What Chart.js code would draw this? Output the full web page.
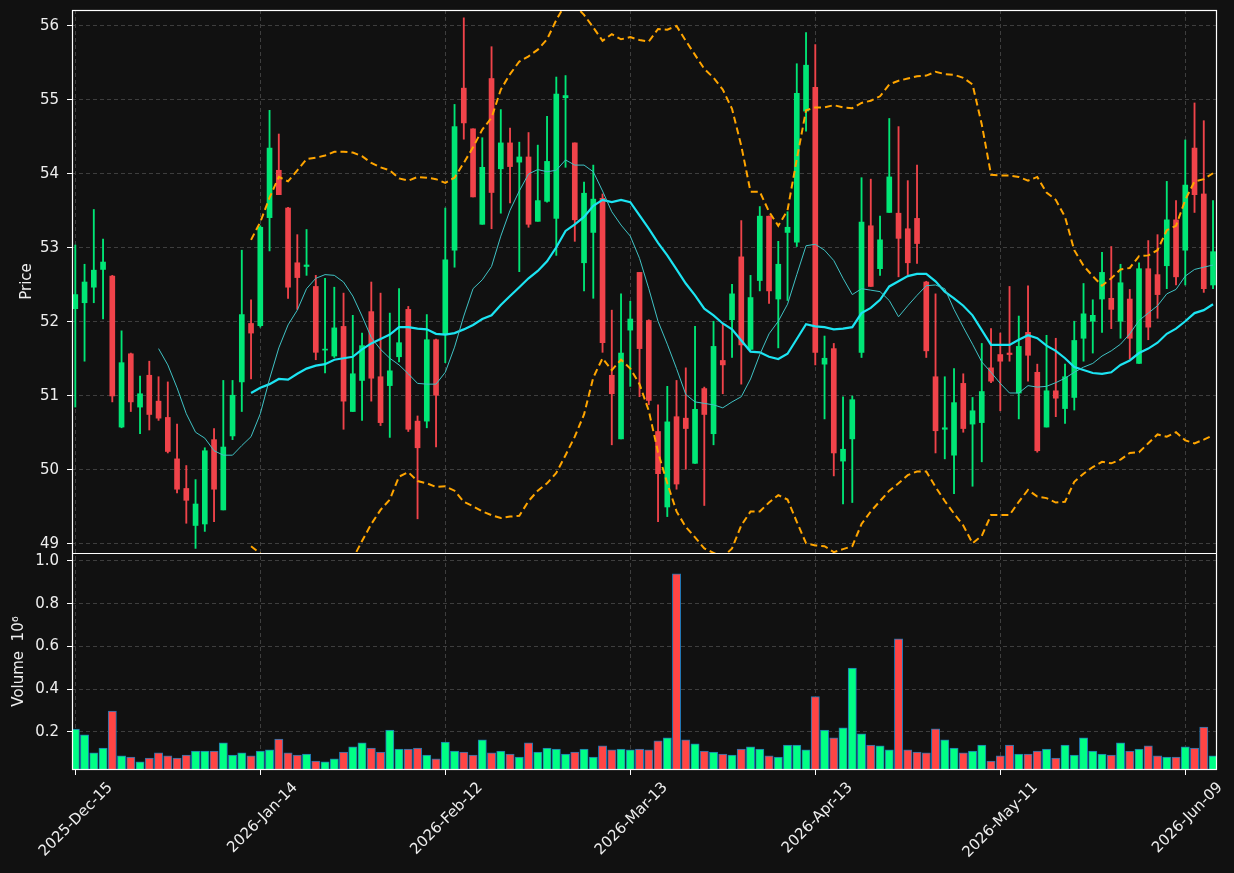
<!DOCTYPE html>
<html>
<head>
<meta charset="utf-8">
<script src="https://cdn.jsdelivr.net/npm/chart.js@4.4.1/dist/chart.umd.min.js"></script>
<style>
  html, body { margin: 0; padding: 0; background: #111111; }
  #wrap { position: absolute; left: 0; top: 0; width: 1234px; height: 873px; }
</style>
</head>
<body>
<div id="wrap"><canvas id="graficoCandles" width="1234" height="873"></canvas></div>
<script>
// pregões (dias úteis da bolsa)
const dates = [
  '2025-Dec-15','2025-Dec-16','2025-Dec-17','2025-Dec-18','2025-Dec-19','2025-Dec-22','2025-Dec-23','2025-Dec-24','2025-Dec-26','2025-Dec-29','2025-Dec-30','2025-Dec-31',
  '2026-Jan-02','2026-Jan-05','2026-Jan-06','2026-Jan-07','2026-Jan-08','2026-Jan-09','2026-Jan-12','2026-Jan-13','2026-Jan-14','2026-Jan-15','2026-Jan-16','2026-Jan-20','2026-Jan-21','2026-Jan-22','2026-Jan-23','2026-Jan-26','2026-Jan-27','2026-Jan-28','2026-Jan-29','2026-Jan-30',
  '2026-Feb-02','2026-Feb-03','2026-Feb-04','2026-Feb-05','2026-Feb-06','2026-Feb-09','2026-Feb-10','2026-Feb-11','2026-Feb-12','2026-Feb-13','2026-Feb-17','2026-Feb-18','2026-Feb-19','2026-Feb-20','2026-Feb-23','2026-Feb-24','2026-Feb-25','2026-Feb-26','2026-Feb-27',
  '2026-Mar-02','2026-Mar-03','2026-Mar-04','2026-Mar-05','2026-Mar-06','2026-Mar-09','2026-Mar-10','2026-Mar-11','2026-Mar-12','2026-Mar-13','2026-Mar-16','2026-Mar-17','2026-Mar-18','2026-Mar-19','2026-Mar-20','2026-Mar-23','2026-Mar-24','2026-Mar-25','2026-Mar-26','2026-Mar-27','2026-Mar-30','2026-Mar-31',
  '2026-Apr-01','2026-Apr-02','2026-Apr-06','2026-Apr-07','2026-Apr-08','2026-Apr-09','2026-Apr-10','2026-Apr-13','2026-Apr-14','2026-Apr-15','2026-Apr-16','2026-Apr-17','2026-Apr-20','2026-Apr-21','2026-Apr-22','2026-Apr-23','2026-Apr-24','2026-Apr-27','2026-Apr-28','2026-Apr-29','2026-Apr-30',
  '2026-May-01','2026-May-04','2026-May-05','2026-May-06','2026-May-07','2026-May-08','2026-May-11','2026-May-12','2026-May-13','2026-May-14','2026-May-15','2026-May-18','2026-May-19','2026-May-20','2026-May-21','2026-May-22','2026-May-26','2026-May-27','2026-May-28','2026-May-29',
  '2026-Jun-01','2026-Jun-02','2026-Jun-03','2026-Jun-04','2026-Jun-05','2026-Jun-08','2026-Jun-09','2026-Jun-10','2026-Jun-11','2026-Jun-12'
];

const opens = [
  52.18, 52.26, 52.47, 52.71, 52.62, 50.58, 51.57, 50.85, 51.28, 50.93,
  50.71, 50.15, 49.75, 49.25, 49.27, 50.41, 49.46, 50.46, 51.19, 51.98,
  51.95, 53.41, 54.05, 53.54, 52.80, 52.75, 52.48, 51.62, 51.54, 51.94,
  50.79, 51.21, 52.14, 51.26, 51.14, 51.53, 52.17, 50.66, 50.66, 51.76,
  51.83, 52.97, 55.16, 54.61, 53.32, 55.29, 54.07, 54.42, 54.16, 54.23,
  53.36, 53.63, 53.40, 55.03, 54.42, 52.80, 53.21, 53.67, 51.28, 50.42,
  51.89, 52.67, 52.02, 50.52, 49.50, 50.72, 50.70, 50.09, 51.10, 50.49,
  51.48, 52.03, 52.88, 51.63, 52.56, 53.43, 52.31, 53.21, 53.08, 54.85,
  55.17, 51.43, 51.64, 50.12, 50.42, 51.59, 53.30, 52.72, 53.48, 53.47,
  53.26, 53.40, 52.54, 51.26, 50.55, 50.20, 51.17, 50.62, 50.64, 51.38,
  51.56, 51.58, 51.04, 51.86, 51.32, 50.58, 51.07, 50.83, 50.98, 51.78,
  52.01, 52.31, 52.32, 52.01, 52.31, 51.44, 52.72, 52.64, 52.76, 53.38,
  52.97, 54.35, 53.73, 52.50
];
const highs = [
  53.04, 52.78, 53.52, 53.12, 52.63, 51.88, 51.58, 51.27, 51.47, 51.26,
  51.19, 50.62, 50.06, 49.87, 50.30, 50.56, 51.21, 51.21, 52.97, 52.30,
  53.30, 54.86, 54.54, 53.55, 53.18, 53.25, 52.63, 52.59, 52.47, 52.39,
  52.09, 51.85, 52.54, 52.39, 52.12, 52.45, 52.21, 50.73, 52.10, 51.77,
  53.54, 54.94, 56.11, 54.61, 54.49, 55.72, 54.87, 54.62, 54.43, 54.56,
  54.39, 54.78, 55.31, 55.33, 54.42, 53.89, 54.12, 53.73, 52.16, 52.38,
  52.28, 52.67, 52.03, 50.88, 51.13, 51.21, 51.38, 51.94, 51.12, 52.01,
  51.98, 52.51, 53.37, 52.63, 53.56, 53.43, 53.09, 53.49, 55.49, 55.91,
  55.75, 51.81, 51.71, 50.99, 51.00, 53.95, 53.93, 53.43, 54.75, 54.64,
  53.91, 54.12, 52.55, 52.38, 51.26, 51.37, 51.30, 50.98, 51.71, 51.91,
  51.85, 52.48, 52.08, 52.49, 51.43, 51.82, 51.78, 51.43, 52.01, 52.52,
  52.30, 52.94, 53.02, 52.78, 52.44, 52.80, 53.10, 53.18, 53.90, 53.64,
  54.46, 54.96, 54.72, 53.64
];
const lows = [
  50.85, 51.47, 52.26, 52.04, 50.92, 50.57, 50.79, 50.49, 50.54, 50.67,
  50.23, 49.69, 49.28, 48.94, 49.17, 49.30, 49.46, 50.41, 50.79, 51.23,
  51.93, 52.96, 53.72, 52.32, 52.17, 52.63, 51.49, 51.31, 51.52, 50.55,
  50.79, 50.67, 50.93, 50.60, 50.44, 51.46, 50.52, 49.34, 50.57, 50.31,
  51.45, 52.74, 54.47, 53.69, 53.32, 53.26, 53.47, 53.61, 52.68, 53.28,
  53.36, 53.62, 52.90, 54.09, 53.09, 52.42, 52.32, 51.59, 50.34, 50.42,
  51.13, 50.99, 50.88, 49.30, 49.37, 49.74, 50.01, 50.09, 49.52, 50.34,
  51.03, 51.52, 51.16, 51.63, 52.42, 52.25, 51.65, 52.29, 53.02, 54.58,
  51.42, 50.69, 49.92, 49.54, 49.56, 51.52, 52.48, 52.63, 53.48, 52.61,
  52.64, 52.79, 51.52, 50.23, 50.15, 49.68, 50.51, 49.78, 50.11, 51.18,
  50.80, 51.47, 50.69, 51.20, 50.24, 50.58, 50.72, 50.63, 50.81, 51.47,
  51.58, 51.86, 51.91, 51.78, 51.50, 51.44, 51.76, 52.05, 52.45, 52.50,
  52.50, 53.48, 52.40, 52.45
];
const closes = [
  52.37, 52.54, 52.70, 52.81, 51.00, 51.45, 50.92, 51.03, 50.75, 50.70,
  50.25, 49.74, 49.59, 49.54, 50.26, 49.74, 50.31, 51.01, 52.10, 51.85,
  53.28, 54.35, 53.72, 52.47, 52.60, 52.77, 51.59, 51.63, 51.92, 50.93,
  51.30, 51.68, 51.24, 50.64, 51.34, 51.72, 50.55, 50.30, 51.76, 51.01,
  52.84, 54.64, 54.69, 53.69, 54.09, 53.75, 54.42, 54.10, 54.23, 53.32,
  53.64, 54.17, 55.08, 55.06, 53.38, 53.74, 53.66, 51.72, 51.03, 51.58,
  52.04, 51.64, 50.94, 49.95, 50.65, 49.81, 50.56, 50.82, 50.75, 51.67,
  51.42, 52.38, 51.69, 52.33, 53.43, 52.42, 52.78, 53.28, 55.09, 55.47,
  51.59, 51.51, 50.23, 50.28, 50.95, 53.35, 52.48, 53.11, 53.96, 53.13,
  52.80, 53.06, 51.61, 50.53, 50.57, 50.91, 50.56, 50.80, 51.06, 51.20,
  51.47, 51.56, 51.67, 51.55, 50.26, 51.07, 50.97, 51.26, 51.75, 52.11,
  52.09, 52.67, 52.17, 52.53, 51.78, 52.72, 51.93, 52.37, 53.38, 52.61,
  53.85, 53.72, 52.45, 52.95
];
// volume em milhões (10^6)
const volumes = [
  0.213, 0.186, 0.102, 0.125, 0.298, 0.088, 0.082, 0.060, 0.078, 0.102,
  0.088, 0.078, 0.092, 0.111, 0.111, 0.111, 0.149, 0.092, 0.102, 0.088,
  0.111, 0.116, 0.167, 0.102, 0.092, 0.097, 0.064, 0.060, 0.074, 0.106,
  0.130, 0.149, 0.125, 0.106, 0.209, 0.120, 0.120, 0.125, 0.092, 0.074,
  0.153, 0.111, 0.106, 0.092, 0.163, 0.102, 0.111, 0.097, 0.083, 0.149,
  0.106, 0.125, 0.120, 0.097, 0.106, 0.120, 0.083, 0.135, 0.116, 0.120,
  0.116, 0.120, 0.116, 0.158, 0.172, 0.939, 0.163, 0.144, 0.111, 0.106,
  0.097, 0.092, 0.120, 0.130, 0.120, 0.088, 0.083, 0.139, 0.139, 0.116,
  0.365, 0.209, 0.172, 0.219, 0.499, 0.191, 0.139, 0.135, 0.116, 0.635,
  0.116, 0.106, 0.102, 0.214, 0.163, 0.125, 0.102, 0.111, 0.139, 0.064,
  0.088, 0.139, 0.097, 0.097, 0.111, 0.120, 0.078, 0.139, 0.092, 0.172,
  0.111, 0.097, 0.092, 0.149, 0.111, 0.120, 0.135, 0.088, 0.083, 0.083,
  0.130, 0.125, 0.223, 0.088
];

// média curta (começa no pregão 9)
const ma10Start = 9;
const ma10 = [
  51.64,
  51.42, 51.11, 50.76, 50.51, 50.43, 50.26, 50.20, 50.20, 50.33, 50.45,
  50.76, 51.23, 51.65, 51.96, 52.16, 52.45, 52.59, 52.64, 52.63, 52.54,
  52.35, 52.08, 51.79, 51.63, 51.51, 51.42, 51.30, 51.17, 51.16, 51.16,
  51.32, 51.66, 52.08, 52.45, 52.57, 52.75, 53.16, 53.51, 53.77, 54.00,
  54.06, 54.03, 54.05, 54.19, 54.12, 54.12, 54.03, 53.77, 53.49, 53.31,
  53.16, 52.86, 52.45, 52.01, 51.70, 51.37, 51.02, 50.92, 50.90, 50.88,
  50.84, 50.92, 50.99, 51.23, 51.56, 51.84, 52.01, 52.24, 52.64, 53.03,
  53.05, 52.97, 52.83, 52.59, 52.37, 52.45, 52.43, 52.41, 52.29, 52.07,
  52.22, 52.36, 52.49, 52.50, 52.45, 52.17, 51.93, 51.70, 51.46, 51.32,
  51.17, 51.04, 51.04, 51.14, 51.12, 51.13, 51.18, 51.24, 51.32, 51.39,
  51.44, 51.54, 51.61, 51.70, 51.84, 52.02, 52.12, 52.22, 52.38, 52.44,
  52.62, 52.71, 52.74, 52.77
];

// média longa e bandas (começam no pregão 19)
const bandStart = 19;
const ma20 = [
  51.04,
  51.11, 51.16, 51.23, 51.22, 51.30, 51.37, 51.41, 51.43, 51.49, 51.51,
  51.53, 51.63, 51.71, 51.77, 51.83, 51.93, 51.93, 51.91, 51.90, 51.84,
  51.83, 51.85, 51.90, 51.96, 52.04, 52.09, 52.23, 52.35, 52.47, 52.59,
  52.69, 52.82, 53.01, 53.23, 53.32, 53.42, 53.57, 53.65, 53.62, 53.65,
  53.62, 53.44, 53.26, 53.07, 52.90, 52.71, 52.52, 52.36, 52.18, 52.09,
  51.98, 51.90, 51.75, 51.60, 51.59, 51.53, 51.50, 51.57, 51.77, 51.97,
  51.94, 51.93, 51.90, 51.91, 51.93, 52.12, 52.19, 52.30, 52.48, 52.55,
  52.62, 52.65, 52.65, 52.55, 52.41, 52.32, 52.22, 52.09, 51.89, 51.69,
  51.69, 51.69, 51.76, 51.82, 51.78, 51.68, 51.61, 51.51, 51.39, 51.35,
  51.31, 51.30, 51.32, 51.42, 51.48, 51.58, 51.64, 51.72, 51.84, 51.91,
  52.01, 52.12, 52.16, 52.24
];
const bandUpper = [
  53.11,
  53.35, 53.68, 53.96, 53.90, 54.05, 54.20, 54.22, 54.25, 54.30, 54.30,
  54.29, 54.24, 54.15, 54.09, 54.05, 53.94, 53.91, 53.96, 53.95, 53.93,
  53.88, 53.95, 54.15, 54.36, 54.60, 54.76, 55.14, 55.35, 55.52, 55.59,
  55.68, 55.82, 56.08, 56.30, 56.28, 56.15, 55.98, 55.80, 55.89, 55.82,
  55.85, 55.81, 55.79, 55.96, 55.95, 56.00, 55.80, 55.61, 55.42, 55.30,
  55.14, 54.88, 54.38, 53.76, 53.76, 53.49, 53.30, 53.51, 54.20, 54.86,
  54.90, 54.90, 54.93, 54.90, 54.89, 54.96, 54.99, 55.05, 55.21, 55.26,
  55.29, 55.32, 55.33, 55.38, 55.35, 55.34, 55.30, 55.21, 54.67, 53.99,
  53.98, 53.98, 53.96, 53.91, 53.96, 53.75, 53.65, 53.42, 52.97, 52.76,
  52.62, 52.49, 52.59, 52.71, 52.73, 52.89, 52.90, 52.97, 53.24, 53.30,
  53.65, 53.90, 53.93, 54.01
];
const bandLower = [
  48.97,
  48.87, 48.64, 48.50, 48.54, 48.55, 48.54, 48.60, 48.61, 48.68, 48.72,
  48.80, 49.04, 49.27, 49.46, 49.60, 49.91, 49.97, 49.85, 49.82, 49.77,
  49.78, 49.72, 49.57, 49.51, 49.44, 49.39, 49.35, 49.37, 49.38, 49.58,
  49.72, 49.82, 49.96, 50.20, 50.45, 50.75, 51.25, 51.51, 51.35, 51.49,
  51.37, 51.16, 50.80, 50.24, 49.82, 49.44, 49.23, 49.09, 48.94, 48.88,
  48.82, 48.94, 49.25, 49.44, 49.44, 49.56, 49.66, 49.60, 49.30, 49.01,
  48.98, 48.97, 48.89, 48.93, 48.97, 49.27, 49.44, 49.58, 49.72, 49.82,
  49.93, 49.98, 49.98, 49.77, 49.58, 49.41, 49.25, 49.01, 49.11, 49.39,
  49.39, 49.39, 49.57, 49.73, 49.64, 49.62, 49.56, 49.57, 49.84, 49.95,
  50.04, 50.11, 50.09, 50.14, 50.23, 50.24, 50.36, 50.48, 50.45, 50.51,
  50.40, 50.36, 50.41, 50.47
];

const xTickIdx = [0, 20, 40, 60, 80, 100, 120];
const priceTicks = [49, 50, 51, 52, 53, 54, 55, 56];
const volTicks = [0.2, 0.4, 0.6, 0.8, 1.0];

// cores
const corAlta = '#00e676';
const corBaixa = '#f0434a';
const corVolAlta = '#00ff85';
const corVolBaixa = '#ff4545';
const corTexto = '#eeeeee';
const corGrade = '#3e3e3e';

Chart.defaults.font.family = 'DejaVu Sans';
Chart.defaults.font.size = 15;
Chart.defaults.color = corTexto;

const alta = opens.map((o, i) => closes[i] >= o);

const corpos = opens.map((o, i) => ({x: i, y: [o, closes[i]]}));
const pavios = lows.map((l, i) => ({x: i, y: [l, highs[i]]}));
const barrasVol = volumes.map((v, i) => ({x: i, y: v}));
const serie = (arr, start) => arr.map((v, k) => ({x: k + start, y: v}));

const fundo = {
    id: 'fundo',
    beforeDraw(chart) {
        const c = chart.ctx;
        c.save();
        c.fillStyle = '#111111';
        c.fillRect(0, 0, chart.width, chart.height);
        c.restore();
    }
};

// moldura branca dos dois paineis
const moldura = {
    id: 'moldura',
    afterDraw(chart) {
        const c = chart.ctx;
        const a = chart.chartArea;
        const ySep = Math.round(chart.scales.y.bottom) + 0.5;
        c.save();
        c.strokeStyle = '#ffffff';
        c.lineWidth = 1.2;
        c.strokeRect(a.left + 0.5, a.top + 0.5, a.right - a.left - 1, a.bottom - a.top - 1);
        c.beginPath();
        c.moveTo(a.left, ySep);
        c.lineTo(a.right, ySep);
        c.stroke();
        c.restore();
    }
};

const gradeComum = { color: corGrade, lineWidth: 1, offset: false, tickColor: '#ffffff', tickLength: 5, tickBorderDash: [] };

const ctx = document.getElementById('graficoCandles').getContext('2d');

new Chart(ctx, {
    type: 'bar',
    data: {
        datasets: [
            {
                type: 'line', label: 'MA10', yAxisID: 'y', order: 0,
                data: serie(ma10, ma10Start),
                borderColor: '#3fc2c4', borderWidth: 1, pointRadius: 0, tension: 0, clip: 0
            },
            {
                type: 'line', label: 'MA20', yAxisID: 'y', order: 1,
                data: serie(ma20, bandStart),
                borderColor: '#1ce4f2', borderWidth: 2.2, pointRadius: 0, tension: 0, clip: 0
            },
            {
                type: 'line', label: 'Banda sup', yAxisID: 'y', order: 2,
                data: serie(bandUpper, bandStart),
                borderColor: '#ffa500', borderWidth: 2, borderDash: [7, 4], pointRadius: 0, tension: 0, clip: 0
            },
            {
                type: 'line', label: 'Banda inf', yAxisID: 'y', order: 3,
                data: serie(bandLower, bandStart),
                borderColor: '#ffa500', borderWidth: 2, borderDash: [7, 4], pointRadius: 0, tension: 0, clip: 0
            },
            {
                label: 'Corpo', yAxisID: 'y', order: 4, grouped: false,
                data: corpos,
                backgroundColor: alta.map(a => a ? corAlta : corBaixa),
                barThickness: 5, minBarLength: 1, clip: 0
            },
            {
                label: 'Pavio', yAxisID: 'y', order: 5, grouped: false,
                data: pavios,
                backgroundColor: alta.map(a => a ? corAlta : corBaixa),
                barThickness: 1.2, clip: 0
            },
            {
                label: 'Volume', yAxisID: 'yv', order: 6, grouped: false,
                data: barrasVol,
                backgroundColor: alta.map(a => a ? corVolAlta : corVolBaixa),
                borderColor: '#1f77b4', borderWidth: 1, borderSkipped: false,
                barThickness: 8.3, clip: 0
            }
        ]
    },
    options: {
        responsive: false,
        animation: false,
        layout: { padding: {left: 0, right: 17, top: 10, bottom: 0} },
        plugins: {
            legend: { display: false },
            tooltip: { enabled: false }
        },
        scales: {
            x: {
                type: 'linear', offset: false,
                min: -0.357, max: 123.43,
                afterBuildTicks: s => { s.ticks = xTickIdx.map(v => ({value: v})); },
                afterFit: s => { s.height = 103; s.paddingLeft = 0; s.paddingRight = 0; },
                ticks: {
                    autoSkip: false, minRotation: 45, maxRotation: 45,
                    labelOffset: 35, padding: 4, color: corTexto,
                    callback: v => dates[v]
                },
                grid: gradeComum,
                border: { display: false, dash: [4, 3] }
            },
            // painel de volume (embaixo)
            yv: {
                type: 'linear', position: 'left',
                stack: 'paineis', stackWeight: 217,
                min: 0.022, max: 1.037,
                afterBuildTicks: s => { s.ticks = volTicks.map(v => ({value: v})); },
                afterFit: s => { s.width = 72; s.paddingTop = 0; s.paddingBottom = 0; },
                ticks: { padding: 8, color: corTexto, callback: v => v.toFixed(1) },
                title: { display: true, text: 'Volume  10\u2076', color: corTexto, padding: {top: 10, bottom: 0} },
                grid: gradeComum,
                border: { display: false, dash: [4, 3] }
            },
            // painel de preço (em cima)
            y: {
                type: 'linear', position: 'left',
                stack: 'paineis', stackWeight: 543,
                min: 48.878, max: 56.216,
                afterBuildTicks: s => { s.ticks = priceTicks.map(v => ({value: v})); },
                afterFit: s => { s.width = 72; s.paddingTop = 0; s.paddingBottom = 0; },
                ticks: { padding: 8, color: corTexto, callback: v => v },
                title: { display: true, text: 'Price', color: corTexto, padding: {top: 18, bottom: 0} },
                grid: gradeComum,
                border: { display: false, dash: [4, 3] }
            }
        }
    },
    plugins: [fundo, moldura]
});
</script>
</body>
</html>
